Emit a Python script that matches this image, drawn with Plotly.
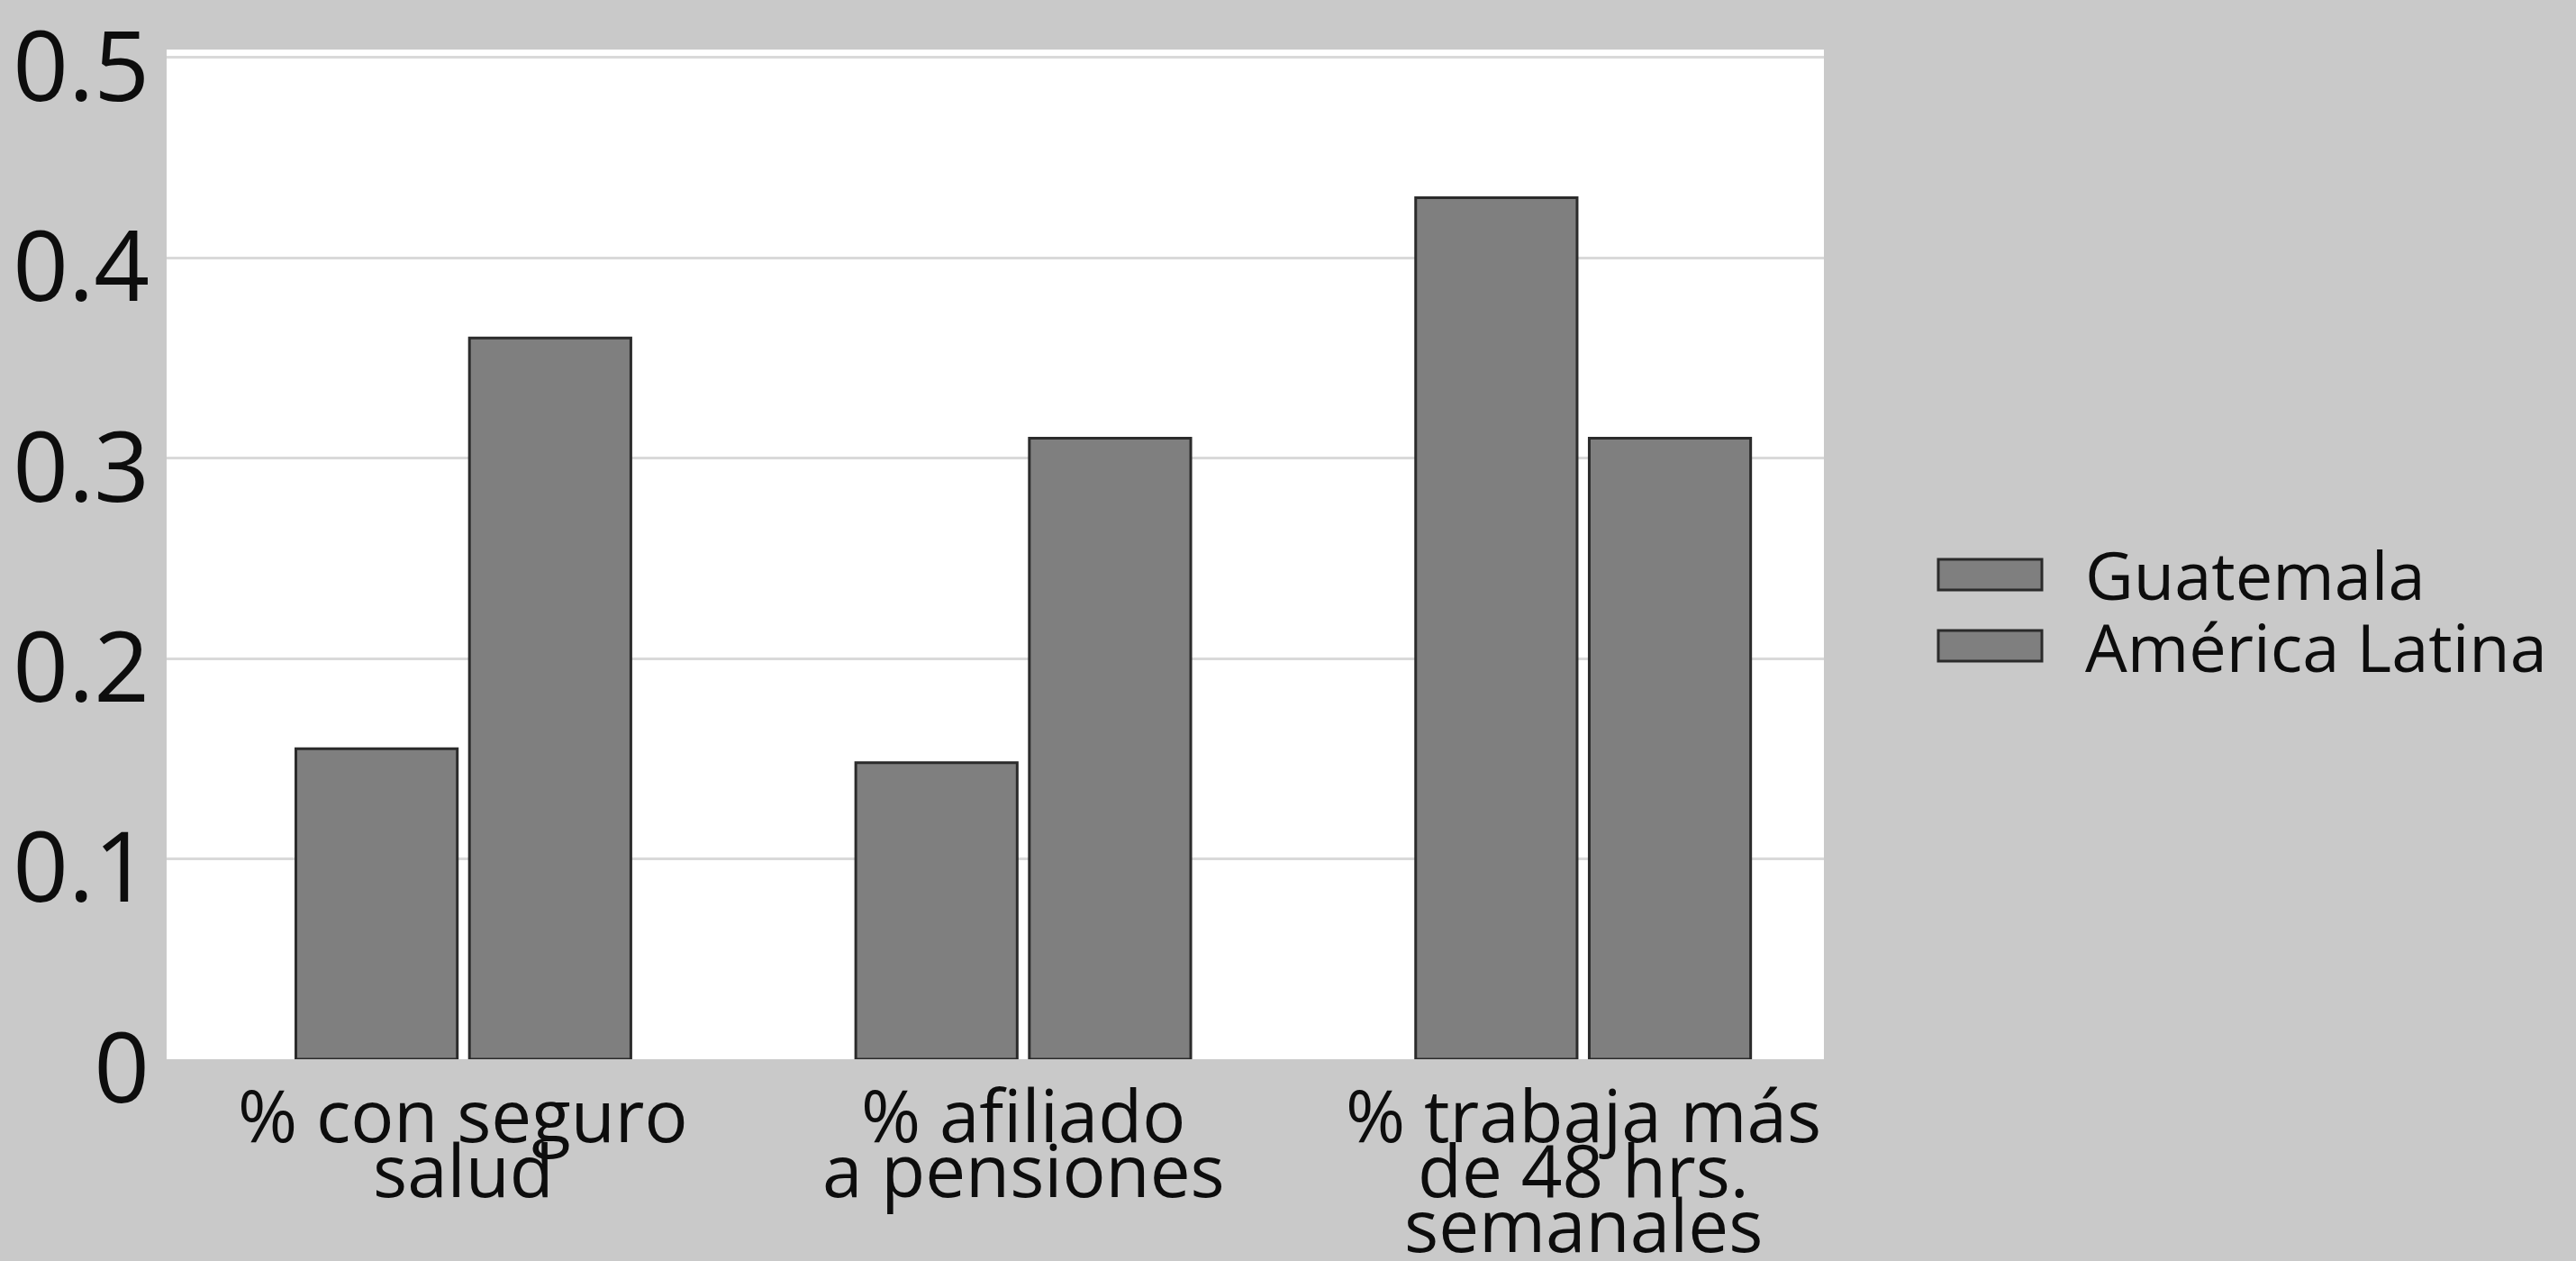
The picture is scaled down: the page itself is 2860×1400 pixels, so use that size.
import plotly.graph_objects as go

# Data
categories = ["% con seguro\nsalud", "% afiliado\na pensiones", "% trabaja más\nde 48 hrs.\nsemanales"]
series_names = ["Guatemala", "América Latina"]
guatemala = [0.155, 0.148, 0.43]
america_latina = [0.36, 0.31, 0.31]
y_ticks = [0, 0.1, 0.2, 0.3, 0.4, 0.5]
y_tick_labels = ["0", "0.1", "0.2", "0.3", "0.4", "0.5"]

# Canvas and plot area geometry (pixels)
W, H = 2860, 1400
M_L, M_R, M_T, M_B = 185, 835, 55, 224
PLOT_W = W - M_L - M_R
PLOT_H = H - M_T - M_B

BG = "#c9c9c9"
BAR_FILL = "#7f7f7f"
BAR_LINE = "#2b2b2b"
TEXT = "#0d0d0d"
FONT = "Open Sans"


def px_to_paper_x(px):
    return (px - M_L) / PLOT_W


def px_to_paper_y(py):
    return (H - M_B - py) / PLOT_H


fig = go.Figure()
for name, vals in zip(series_names, [guatemala, america_latina]):
    fig.add_trace(go.Bar(
        name=name,
        x=categories,
        y=vals,
        marker=dict(color=BAR_FILL, line=dict(color=BAR_LINE, width=3)),
        showlegend=False,
    ))

# Category labels, one annotation per line for tight line spacing
LABEL_SIZE = 80
FIRST_SHIFT = -60
LINE_STEP = 61
annotations = []
for cat in categories:
    for i, line in enumerate(cat.split("\n")):
        annotations.append(dict(
            x=cat, xref="x", y=0, yref="paper",
            text=line, showarrow=False,
            xanchor="center", yanchor="middle",
            yshift=FIRST_SHIFT - LINE_STEP * i,
            font=dict(family=FONT, size=LABEL_SIZE, color=TEXT),
        ))

# Legend drawn with large swatches
shapes = []
legend_rows = [638, 717]
sw_x0, sw_x1, sw_h = 2152, 2267, 34
text_x = 2313
for name, cy in zip(series_names, legend_rows):
    shapes.append(dict(
        type="rect", xref="paper", yref="paper",
        x0=px_to_paper_x(sw_x0), x1=px_to_paper_x(sw_x1),
        y0=px_to_paper_y(cy + sw_h / 2), y1=px_to_paper_y(cy - sw_h / 2),
        fillcolor=BAR_FILL, line=dict(color=BAR_LINE, width=3),
    ))
    annotations.append(dict(
        x=px_to_paper_x(text_x), xref="paper",
        y=px_to_paper_y(cy), yref="paper",
        text=name, showarrow=False,
        xanchor="left", yanchor="middle",
        font=dict(family=FONT, size=74, color=TEXT),
    ))

fig.update_layout(
    width=W, height=H,
    margin=dict(l=M_L, r=M_R, t=M_T, b=M_B, pad=0, autoexpand=False),
    paper_bgcolor=BG,
    plot_bgcolor="white",
    barmode="group",
    bargap=0.38,
    bargroupgap=0.07,
    font=dict(family=FONT, color=TEXT),
    annotations=annotations,
    shapes=shapes,
)
fig.update_xaxes(
    type="category",
    range=[-0.53, 2.43],
    showticklabels=False,
    showgrid=False,
    showline=False,
    zeroline=False,
    ticks="",
    automargin=False,
)
fig.update_yaxes(
    range=[0, 0.504],
    tickvals=y_ticks,
    ticktext=y_tick_labels,
    tickfont=dict(family=FONT, size=108, color=TEXT),
    ticks="",
    ticklabelstandoff=18,
    ticklabelshift=10,
    ticklabeloverflow="allow",
    automargin=False,
    showgrid=True,
    gridcolor="#d9d9d9",
    gridwidth=3,
    zeroline=False,
    showline=False,
)

fig.write_html("out.html")
